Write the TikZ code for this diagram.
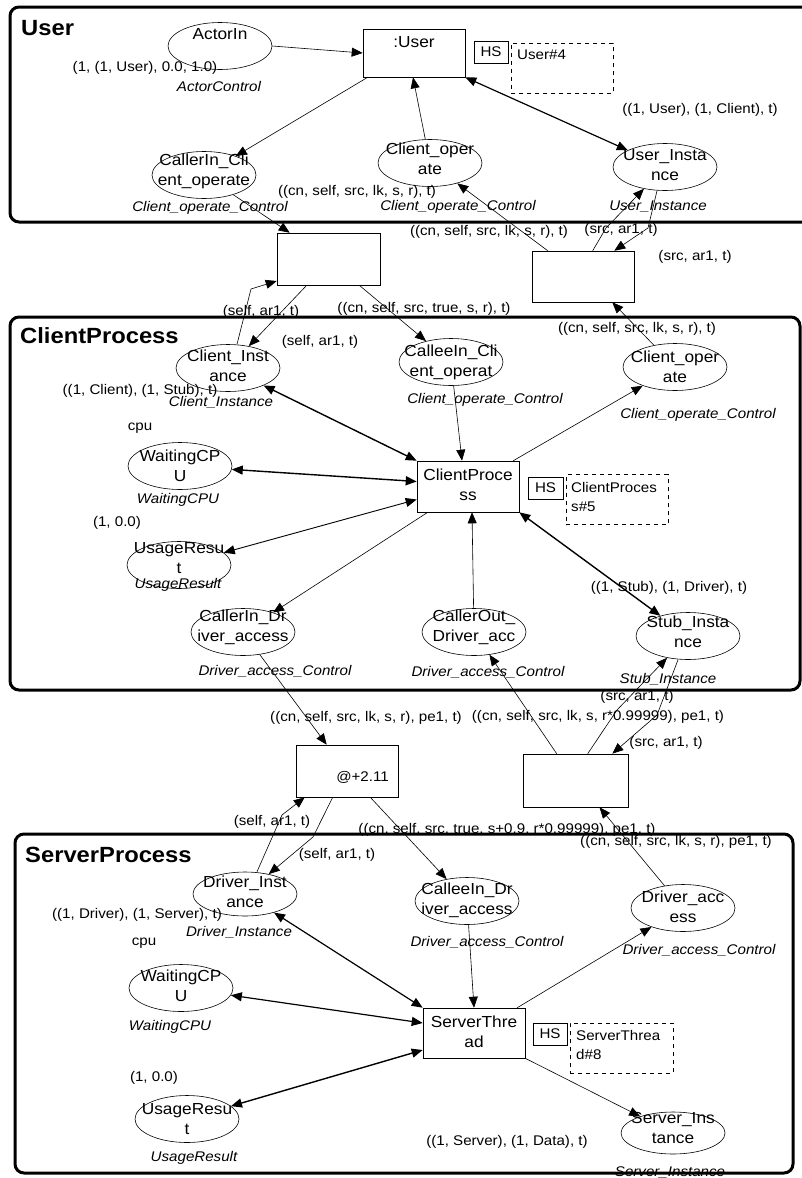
\documentclass[tikz,border=0pt]{standalone}
\usepackage{fontspec}
\setmainfont[FakeStretch=1.08]{Liberation Sans}
\usetikzlibrary{arrows.meta,calc,shapes.geometric}
\newcommand{\mylbl}{\fontsize{14}{16}\selectfont}
\newcommand{\mynode}{\fontsize{16}{20}\selectfont}
\newcommand{\mytitle}{\fontsize{22}{24}\selectfont\bfseries}
\newcommand{\myhs}{\fontsize{14}{19}\selectfont}
\begin{document}
\begin{tikzpicture}[x=1pt,y=-1pt,
  place/.style={draw, ellipse, line width=0.6pt, minimum width=104pt, minimum height=47pt, inner sep=0pt},
  trans/.style={draw, rectangle, line width=0.6pt, minimum width=102pt, minimum height=51pt, inner sep=0pt},
  ntext/.style={font=\mynode, align=center, inner sep=0pt},
  lbl/.style={font=\mylbl, inner sep=0pt},
  ilbl/.style={font=\mylbl\itshape, inner sep=0pt},
  ttl/.style={font=\mytitle, inner sep=0pt, anchor=west},
  hsbox/.style={draw, line width=0.6pt, font=\mylbl, minimum width=34pt, minimum height=22pt, inner sep=0pt},
  hsdash/.style={draw, dash pattern=on 4pt off 4pt, line width=0.6pt, minimum width=102pt, minimum height=50pt, inner sep=0pt},
  hstext/.style={font=\myhs, align=left, inner sep=0pt, anchor=north west},
  arc/.style={draw, line width=0.6pt, -{Triangle[length=11pt,width=9pt]}},
  darc/.style={draw, line width=1.4pt, {Triangle[length=11pt,width=9pt]}-{Triangle[length=11pt,width=9pt]}},
  page/.style={draw, line width=3pt, rounded corners=9pt}]
\useasboundingbox (0,0) rectangle (801,1178);

% ---------- page frames ----------
\draw[page] (10,7) rectangle (815,222);
\draw[page] (10,317) rectangle (800,690);
\draw[page] (15,834) rectangle (793,1173);
\node[ttl] (tUser) at (21,28) {User};
\node[ttl] (tCP) at (20,336) {ClientProcess};
\node[ttl] (tSP) at (25,855) {ServerProcess};

% ---------- User ----------
\node[place] (actorin) at (220,46) {};
\node[ntext] (actorin-t) at (220,34) {ActorIn};
\node[trans, minimum height=48pt] (userT) at (414,53) {};
\node[ntext] (userT-t) at (414,42) {:User};
\node[hsbox] (hs1) at (491,52) {HS};
\node[hsdash] (hsd1) at (562,68) {};
\node[lbl, anchor=west] (hsd1-t) at (517,55) {User\#4};
\node[place] (callerinco) at (204,175) {};
\node[ntext] (callerinco-t) at (204,171) {CallerIn\_Cli\\ent\_operate};
\node[place] (clopu) at (430,163) {};
\node[ntext] (clopu-t) at (430,159) {Client\_oper\\ate};
\node[place] (userinst) at (665,167) {};
\node[ntext] (userinst-t) at (665,165) {User\_Insta\\nce};

\node[lbl] (l1) at (145,68) {(1, (1, User), 0.0, 1.0)};
\node[ilbl] (l2) at (219,86) {ActorControl};
\node[ilbl] (l3) at (210,208) {Client\_operate\_Control};
\node[lbl] (l4) at (357,192) {((cn, self, src, lk, s, r), t)};
\node[ilbl] (l5) at (458,207) {Client\_operate\_Control};
\node[lbl] (l6) at (700,110) {((1, User), (1, Client), t)};
\node[ilbl] (l7) at (658,207) {User\_Instance};

\draw[arc] (actorin.east) -- (userT.west);
\draw[arc] ($(userT.south west)+(5,0)$) -- (callerinco);
\draw[arc] (clopu) -- ($(userT.south)+(-1,0)$);
\draw[darc, line width=1.2pt] (userT.south east) -- (userinst);

% ---------- transitions between User and ClientProcess ----------
\node[trans, minimum width=103pt, minimum height=52pt] (T1) at (328.5,259) {};
\node[trans] (T2) at (583,276.5) {};

\node[lbl] (l8) at (261,312) {(self, ar1, t)};
\node[lbl] (l9) at (424,309) {((cn, self, src, true, s, r), t)};
\node[lbl] (l10) at (320,342) {(self, ar1, t)};
\node[lbl] (l11) at (489,232) {((cn, self, src, lk, s, r), t)};
\node[lbl] (l12) at (621,230) {(src, ar1, t)};
\node[lbl] (l13) at (695,257) {(src, ar1, t)};
\node[lbl] (l14) at (637,329) {((cn, self, src, lk, s, r), t)};

% ---------- ClientProcess ----------
\node[place] (clinst) at (228,368) {};
\node[ntext] (clinst-t) at (228,366) {Client\_Inst\\ance};
\node[place] (calleeinco) at (451,362) {};
\node[ntext] (calleeinco-t) at (451,362) {CalleeIn\_Cli\\ent\_operat};
\node[place] (clopcp) at (675,367) {};
\node[ntext] (clopcp-t) at (675,367) {Client\_oper\\ate};
\node[place] (waitA) at (180,466) {};
\node[ntext] (waitA-t) at (180,466) {WaitingCP\\U};
\node[place] (usageA) at (179,565) {};
\node[ntext] (usageA-t) at (179,558) {UsageResu\\t};
\node[trans] (cpT) at (468,486.5) {};
\node[ntext] (cpT-t) at (468,485) {ClientProce\\ss};
\node[hsbox, minimum width=35pt] (hs2) at (545.5,488) {HS};
\node[hsdash] (hsd2) at (617,499.5) {};
\node[hstext] (hsd2-t) at (571,482) {ClientProces\\s\#5};
\node[place] (callerinda) at (243,632) {};
\node[ntext] (callerinda-t) at (243,627) {CallerIn\_Dr\\iver\_access};
\node[place] (calleroutda) at (474,632) {};
\node[ntext] (calleroutda-t) at (474,627) {CallerOut\_\\Driver\_acc};
\node[place] (stubinst) at (688,636) {};
\node[ntext] (stubinst-t) at (688,632) {Stub\_Insta\\nce};

\node[lbl] (l15) at (140,391) {((1, Client), (1, Stub), t)};
\node[ilbl] (l16) at (221,402) {Client\_Instance};
\node[lbl] (l17) at (140,428) {cpu};
\node[ilbl] (l18) at (178,500) {WaitingCPU};
\node[lbl] (l19) at (117,523) {(1, 0.0)};
\node[ilbl] (l20) at (178,585) {UsageResult};
\node[ilbl] (l21) at (485,400) {Client\_operate\_Control};
\node[ilbl] (l22) at (698,415) {Client\_operate\_Control};
\node[lbl] (l23) at (669,588) {((1, Stub), (1, Driver), t)};
\node[ilbl] (l24) at (275,671) {Driver\_access\_Control};
\node[ilbl] (l25) at (488,672) {Driver\_access\_Control};
\node[ilbl] (l26) at (668,679) {Stub\_Instance};

% arcs User <-> ClientProcess
\draw[arc] (callerinco) -- ($(T1.north west)+(13,0)$);
\draw[arc] ($(T1.south west)+(30,0)$) -- (clinst);
\draw[arc] ($(clinst.north)+(9,0)$) -- (251,289) -- ($(T1.west)+(0,22)$);
\draw[arc] ($(T1.south east)+(-21,0)$) -- (calleeinco);
\draw[arc] ($(T2.north west)+(16,0)$) -- (clopu);
\draw[arc] ($(T2.north west)+(61,0)$) -- (606,228) -- (userinst);
\draw[arc] ($(userinst.south)+(-8,0)$) -- (648,228) -- ($(T2.north east)+(-20,0)$);
\draw[arc] (clopcp) -- ($(T2.south east)+(-22,0)$);

% arcs inside ClientProcess
\draw[darc] (clinst) -- (cpT.north west);
\draw[arc] (calleeinco) -- ($(cpT.north)+(-6,0)$);
\draw[arc] ($(cpT.north east)+(-6,0)$) -- (clopcp);
\draw[darc] (waitA) -- ($(cpT.west)+(0,-5)$);
\draw[darc, line width=0.9pt] (usageA) -- ($(cpT.west)+(0,13)$);
\draw[arc] ($(cpT.south west)+(11,0)$) -- (callerinda);
\draw[arc] (calleroutda) -- ($(cpT.south)+(4,0)$);
\draw[darc] (cpT.south east) -- (stubinst);

% ---------- transitions between ClientProcess and ServerProcess ----------
\node[trans, minimum height=52pt] (T3) at (347,771) {};
\node[lbl, anchor=east] (T3-t) at (389,777) {@+2.11};
\node[trans, minimum width=105pt, minimum height=53pt] (T4) at (575.5,780.5) {};

\node[lbl] (l27) at (366,718) {((cn, self, src, lk, s, r), pe1, t)};
\node[lbl] (l28) at (598,717) {((cn, self, src, lk, s, r*0.99999), pe1, t)};
\node[lbl] (l29) at (637,697) {(src, ar1, t)};
\node[lbl] (l30) at (666,743) {(src, ar1, t)};
\node[lbl] (l31) at (272,822) {(self, ar1, t)};
\node[lbl] (l32) at (337,855) {(self, ar1, t)};
\node[lbl] (l33) at (507,830) {((cn, self, src, true, s+0.9, r*0.99999), pe1, t)};
\node[lbl] (l34) at (676,842) {((cn, self, src, lk, s, r), pe1, t)};

% ---------- ServerProcess ----------
\node[place, minimum height=44pt] (drvinst) at (245,894) {};
\node[ntext] (drvinst-t) at (245,892) {Driver\_Inst\\ance};
\node[place] (calleeinda) at (467,901) {};
\node[ntext] (calleeinda-t) at (467,900) {CalleeIn\_Dr\\iver\_access};
\node[place] (drvacc) at (683,908) {};
\node[ntext] (drvacc-t) at (683,907) {Driver\_acc\\ess};
\node[place] (waitB) at (181,988) {};
\node[ntext] (waitB-t) at (181,986) {WaitingCP\\U};
\node[place] (usageB) at (187,1119) {};
\node[ntext] (usageB-t) at (187,1119) {UsageResu\\t};
\node[trans, minimum height=50pt] (stT) at (474,1033) {};
\node[ntext] (stT-t) at (474,1032) {ServerThre\\ad};
\node[hsbox] (hs3) at (550,1034) {HS};
\node[hsdash, minimum width=103pt] (hsd3) at (621.5,1048) {};
\node[hstext] (hsd3-t) at (576,1030) {ServerThrea\\d\#8};
\node[place, minimum height=42pt] (srvinst) at (673,1133) {};
\node[ntext] (srvinst-t) at (673,1128) {Server\_Ins\\tance};

\node[lbl] (l35) at (137,915) {((1, Driver), (1, Server), t)};
\node[ilbl] (l36) at (239,932) {Driver\_Instance};
\node[lbl] (l37) at (144,943) {cpu};
\node[ilbl] (l38) at (170,1027) {WaitingCPU};
\node[lbl] (l39) at (154,1078) {(1, 0.0)};
\node[ilbl] (l40) at (194,1158) {UsageResult};
\node[ilbl] (l41) at (487,942) {Driver\_access\_Control};
\node[ilbl] (l42) at (699,950) {Driver\_access\_Control};
\node[lbl] (l43) at (507,1142) {((1, Server), (1, Data), t)};
\node[ilbl] (l44) at (670,1172) {Server\_Instance};

% arcs ClientProcess <-> ServerProcess
\draw[arc] (callerinda) -- ($(T3.north west)+(31,0)$);
\draw[arc] ($(T3.south west)+(37,0)$) -- (313,837) -- (drvinst);
\draw[arc] ($(drvinst.north)+(12,0)$) -- (282,815) -- ($(T3.south west)+(9,0)$);
\draw[arc] ($(T3.south east)+(-28,0)$) -- (calleeinda);
\draw[arc] ($(T4.north west)+(34,0)$) -- (calleroutda);
\draw[arc] ($(T4.north west)+(65,0)$) -- (617,710) -- (stubinst);
\draw[arc] ($(stubinst.south)+(-10,0)$) -- (657,715) -- ($(T4.north east)+(-16,0)$);
\draw[arc] (drvacc) -- ($(T4.south)+(24,0)$);

% arcs inside ServerProcess
\draw[darc, line width=1.2pt] (drvinst) -- (stT.north west);
\draw[arc] (calleeinda) -- (stT.north);
\draw[arc] ($(stT.north east)+(-8,0)$) -- (drvacc);
\draw[darc, line width=1.2pt] (waitB) -- ($(stT.west)+(0,-10)$);
\draw[darc] (usageB) -- ($(stT.west)+(0,17)$);
\draw[arc] (stT.south east) -- (srvinst);
\end{tikzpicture}
\end{document}
